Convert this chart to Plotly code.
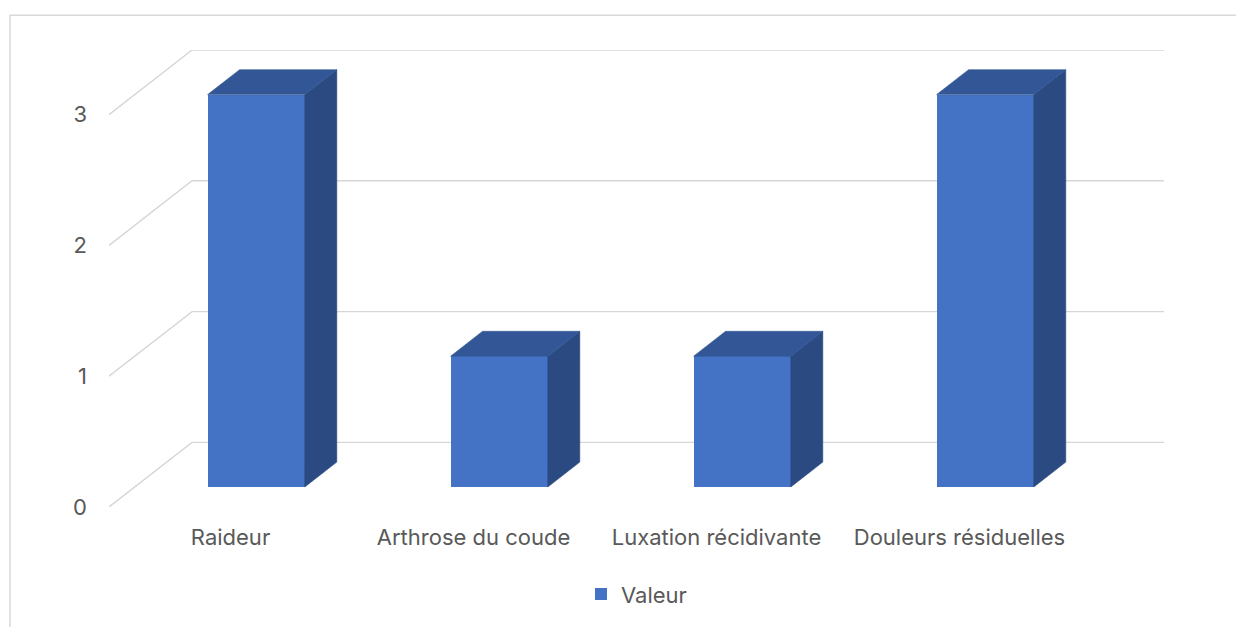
import plotly.graph_objects as go

# Chart data
categories = ["Raideur", "Arthrose du coude", "Luxation récidivante", "Douleurs résiduelles"]
values = [3, 1, 1, 3]
y_ticks = [0, 1, 2, 3]
series_name = "Valeur"

# Oblique projection used to fake the 3D look (depth 0 = front, 1 = back wall)
DX = 0.3416      # horizontal shift at full depth, category units
DY = 0.494       # vertical shift at full depth, value units
D0, D1 = 0.31, 0.695   # bar depth span
HALF_W = 0.2

FRONT = "#4472C4"
TOP = "#335796"
SIDE = "#2A4A81"
GRID = "#D6D6D6"
TEXT = "#595959"
FONT = "Inter"

W, H = 1236, 627
ML, MR, MT, MB = 109, 72, 50, 116
PW, PH = W - ML - MR, H - MT - MB

n = len(categories)
x_min, x_max = -0.5, n - 0.5 + DX
y_max = max(y_ticks) + DY

fig = go.Figure()

# Front faces of the bars
fig.add_trace(go.Bar(
    x=[i + D0 * DX for i in range(n)],
    y=values,
    base=[D0 * DY] * n,
    width=2 * HALF_W,
    marker=dict(color=FRONT, line=dict(width=0)),
    name=series_name,
    showlegend=True,
    hoverinfo="skip",
))

# Top and right-side faces
dd = D1 - D0
for i, v in enumerate(values):
    xl = i - HALF_W + D0 * DX
    xr = i + HALF_W + D0 * DX
    yb = D0 * DY
    yt = v + D0 * DY
    fig.add_trace(go.Scatter(
        x=[xr, xr + dd * DX, xr + dd * DX, xr, xr],
        y=[yb, yb + dd * DY, yt + dd * DY, yt, yb],
        mode="lines", fill="toself", fillcolor=SIDE,
        line=dict(width=0.6, color=SIDE), showlegend=False, hoverinfo="skip",
    ))
    fig.add_trace(go.Scatter(
        x=[xl, xl + dd * DX, xr + dd * DX, xr, xl],
        y=[yt, yt + dd * DY, yt + dd * DY, yt, yt],
        mode="lines", fill="toself", fillcolor=TOP,
        line=dict(width=0.6, color=TOP), showlegend=False, hoverinfo="skip",
    ))

# Back wall and side wall gridlines
shapes = []
for v in y_ticks:
    shapes.append(dict(
        type="path", xref="x", yref="y", layer="below",
        path=f"M{-0.5},{v} L{-0.5 + DX},{v + DY} L{n - 0.5 + DX},{v + DY}",
        line=dict(color=GRID, width=1.4),
    ))

# Chart-area border (right and bottom edges sit outside the canvas)
def px_to_paper_x(px):
    return (px - ML) / PW

def px_to_paper_y(py):
    return (H - MB - py) / PH

shapes.append(dict(
    type="rect", xref="paper", yref="paper", layer="below",
    x0=px_to_paper_x(10), x1=px_to_paper_x(W + 40),
    y0=px_to_paper_y(H + 40), y1=px_to_paper_y(15),
    line=dict(color="#D9D9D9", width=1.5), fillcolor="rgba(0,0,0,0)",
))

fig.update_layout(
    width=W, height=H,
    margin=dict(l=ML, r=MR, t=MT, b=MB),
    paper_bgcolor="white", plot_bgcolor="white",
    font=dict(family=FONT, color=TEXT, size=22),
    shapes=shapes,
    showlegend=True,
    legend=dict(
        orientation="h", x=0.5, xanchor="center",
        y=px_to_paper_y(599), yanchor="middle",
        font=dict(size=22, color=TEXT, family=FONT),
        bgcolor="rgba(0,0,0,0)",
        itemwidth=30,
    ),
    xaxis=dict(
        range=[x_min, x_max],
        tickvals=list(range(n)), ticktext=categories,
        showgrid=False, zeroline=False, showline=False, ticks="",
        tickfont=dict(size=22, color=TEXT, family=FONT),
        ticklabelstandoff=15, fixedrange=True,
    ),
    yaxis=dict(
        range=[0, y_max],
        tickvals=y_ticks, ticktext=[str(t) for t in y_ticks],
        showgrid=False, zeroline=False, showline=False, ticks="",
        tickfont=dict(size=22, color=TEXT, family=FONT),
        ticklabelstandoff=21, fixedrange=True,
    ),
    bargap=0,
)

fig.write_html("out.html")
